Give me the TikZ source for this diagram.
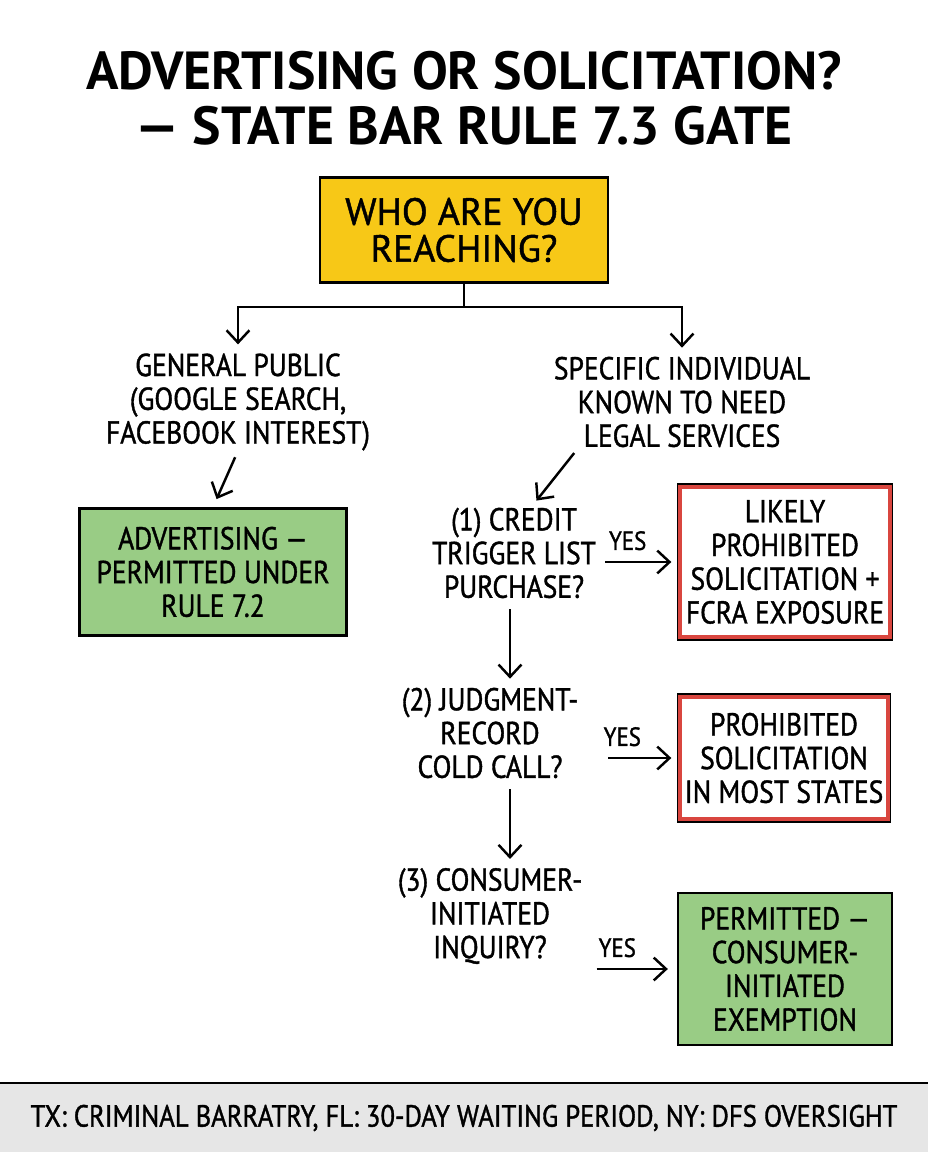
\documentclass[tikz,border=0pt]{standalone}
\usepackage{fontspec}
\setmainfont[FakeStretch=0.87,FakeBold=1.2]{PT Sans}
\newfontfamily\widefont[FakeBold=1.2]{PT Sans}
\newfontfamily\titlefont{PT Sans}
\usetikzlibrary{arrows.meta}

\definecolor{gateyellow}{HTML}{F7C817}
\definecolor{okgreen}{HTML}{99CC85}
\definecolor{badred}{HTML}{D9463F}
\definecolor{footgray}{HTML}{E6E6E6}

\begin{document}
\begin{tikzpicture}[x=0.02cm,y=-0.02cm,
  txt/.style={align=center,inner sep=0,font=\fontsize{18}{19.2}\selectfont},
  box/.style={draw=black,line width=1.6pt,align=center,inner sep=0,font=\fontsize{18}{19.2}\selectfont},
  arr/.style={line width=1.4pt,-{Straight Barb[length=7pt,width=13pt,line width=1.4pt]}},
  yes/.style={inner sep=0,font=\fontsize{15}{15}\selectfont}]
\useasboundingbox (0,0) rectangle (928,1152);

% title
\node[inner sep=0,font=\titlefont\bfseries\fontsize{30.5}{31.5}\selectfont,align=center] (title) at (464,98)
  {ADVERTISING OR SOLICITATION?\\— STATE BAR RULE 7.3 GATE};

% boxes
\node[box,fill=gateyellow,minimum width=5.76cm,minimum height=2.1cm,font=\widefont\fontsize{21.5}{21}\selectfont] (who) at (464,230) {WHO ARE YOU\\REACHING?};
\node[box,fill=okgreen,minimum width=5.34cm,minimum height=2.54cm] (adv) at (213,572) {ADVERTISING —\\PERMITTED UNDER\\RULE 7.2};
\node[box,fill=white,minimum width=4.28cm,minimum height=3.1cm] (red1) at (785,562) {LIKELY\\PROHIBITED\\SOLICITATION +\\FCRA EXPOSURE};
\node[box,fill=white,minimum width=4.24cm,minimum height=2.54cm] (red2) at (784,758) {PROHIBITED\\SOLICITATION\\IN MOST STATES};
\node[box,fill=okgreen,minimum width=4.28cm,minimum height=3.04cm] (ok) at (785,969) {PERMITTED —\\CONSUMER-\\INITIATED\\EXEMPTION};
\draw[badred,line width=2.4pt] ([xshift=2pt,yshift=-2pt]red1.north west) rectangle ([xshift=-2pt,yshift=2pt]red1.south east);
\draw[badred,line width=2.4pt] ([xshift=2pt,yshift=-2pt]red2.north west) rectangle ([xshift=-2pt,yshift=2pt]red2.south east);

% plain text steps
\node[txt] (gen) at (238,402) {GENERAL PUBLIC\\(GOOGLE SEARCH,\\FACEBOOK INTEREST)};
\node[txt] (spec) at (682,402) {SPECIFIC INDIVIDUAL\\KNOWN TO NEED\\LEGAL SERVICES};
\node[txt] (q1) at (514,553) {(1) CREDIT\\TRIGGER LIST\\PURCHASE?};
\node[txt] (q2) at (490,733) {(2) JUDGMENT-\\RECORD\\COLD CALL?};
\node[txt] (q3) at (490,916) {(3) CONSUMER-\\INITIATED\\INQUIRY?};

% connectors
\coordinate (split) at (464,307);
\coordinate (down) at (510,600);
\draw[arr,shorten >=5pt] (who.south) -- (split) -| (gen.north);
\draw[arr,shorten >=5pt] (who.south) -- (split) -| (spec.north);
\draw[arr,shorten <=4pt,shorten >=5pt] (gen.south) -- (adv.north);
\draw[arr,shorten <=4pt,shorten >=5pt] ([xshift=0.5cm]spec.south west) -- ([xshift=0.34cm]q1.north);
\draw[arr,shorten <=6pt,shorten >=5pt] (down |- q1.south) -- (q2.north -| down);
\draw[arr,shorten <=6pt,shorten >=5pt] (q2.south -| down) -- (q3.north -| down);
\draw[arr,shorten <=5pt,shorten >=3pt] (q1.east |- red1.west) -- (red1.west) node[yes,midway,above=6pt,xshift=-5pt] {YES};
\draw[arr,shorten <=17pt,shorten >=3pt] (q2.east |- red2.west) -- (red2.west) node[yes,midway,above=6pt,xshift=-3pt] {YES};
\draw[arr,shorten <=8pt,shorten >=5pt] (q3.east |- ok.west) -- (ok.west) node[yes,midway,above=6pt,xshift=-7pt] {YES};

% footer
\fill[footgray] (0,1083) rectangle (928,1152);
\draw[line width=1.6pt] (0,1083) -- (928,1083);
\node[inner sep=0,font=\fontsize{17.4}{17}\selectfont] (foot) at (464,1118) {TX: CRIMINAL BARRATRY, FL: 30-DAY WAITING PERIOD, NY: DFS OVERSIGHT};
\end{tikzpicture}
\end{document}
